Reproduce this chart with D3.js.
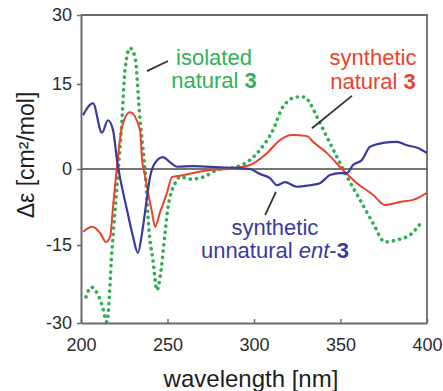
<!DOCTYPE html>
<html>
<head>
<meta charset="utf-8">
<script src="https://cdn.jsdelivr.net/npm/d3@7"></script>
<style>
  body { margin: 0; background: #fff; }
  svg { display: block; font-family: "Liberation Sans", Arial, sans-serif; }
</style>
</head>
<body>
<svg id="cd-graph" width="443" height="391"></svg>
<script>
// wavelength [nm] / delta epsilon
const blueWl  = [201.2, 206.9, 212.1, 215.6, 218.5, 220.8, 226.6, 230.1, 232.9, 235.3, 238.2, 239.9, 242.8, 247.4, 251.4, 255.5, 265, 280.3, 290, 297.7, 303.5, 309.2, 313.3, 317.9, 324.8, 332.4, 338.1, 343.9, 349.7, 353.7, 357.2, 362.4, 367, 374.6, 382.6, 388.4, 394.8, 400];
const blueDe  = [9.5, 11.6, 6.4, 8.6, 6.9, 1.6, -8.1, -13.4, -16.5, -12.6, -5.5, -1.6, 1.1, 2.1, 1.2, 0.4, 0.5, 0.3, 0.2, 0, -1, -1.8, -3.2, -2.6, -3.5, -3.2, -2.8, -1.2, -0.8, -0.8, 0.7, 1.6, 3.9, 4.6, 4.8, 4.2, 3.7, 2.8];

const redWl   = [201.2, 206.4, 211, 214.5, 216.8, 218.5, 220.8, 223.7, 228.3, 234.1, 235.3, 236.5, 241, 242.8, 245.7, 249.7, 252.6, 258, 264.7, 274.6, 284.4, 297.7, 307.5, 315, 322, 330.6, 334.1, 342.2, 351.4, 359.5, 368.8, 375.7, 384.4, 391.9, 400];
const redDe   = [-12.4, -11.4, -12.6, -14.4, -13.4, -7.5, 0.5, 7.4, 10, 6.9, 1.6, -0.5, -8.5, -11.4, -8.5, -4.7, -1.6, -1.3, -0.8, -0.2, 0, 0.7, 2.8, 5.1, 6, 5.8, 4.8, 2.8, -0.2, -2.8, -5.1, -7.1, -6.5, -6.1, -4.7];

const greenWl = [202.9, 205.8, 209.2, 212.1, 215, 217.9, 219.7, 221.4, 223.7, 225.4, 228.3, 231.2, 234.1, 235.3, 237, 239.4, 241.6, 243.9, 245.7, 248.6, 250.3, 255.5, 257.2, 263, 270.5, 278.6, 290.2, 297.7, 303.5, 311, 316.8, 324.8, 329.5, 332.4, 336.4, 342.2, 348, 353.7, 361.3, 368.8, 375.7, 382.6, 390.2, 397.7];
const greenDe = [-25, -23.1, -24.2, -26.5, -29.8, -16, -8.1, -0.8, 8.8, 18, 22.8, 20.9, 8.8, 5.1, 0, -12.6, -17.9, -23.7, -21.2, -12.6, -7.5, -2.2, -1.5, -2.0, -1.6, -0.2, 0.4, 1.6, 3.4, 6.9, 11, 12.7, 12.7, 11.6, 9.2, 5.6, 2.1, -1.5, -6.1, -10.7, -14.4, -14, -13, -10.1];

const xTicks = [200, 250, 300, 350, 400];
const yTicks = [-30, -15, 0, 15, 30];

const svg = d3.select("#cd-graph");
const margin = { top: 15, right: 16, bottom: 68, left: 81 };
const width = 443 - margin.left - margin.right;
const height = 391 - margin.top - margin.bottom;

const x = d3.scaleLinear().domain([200, 400]).range([0, width]);
// the printed axis is slightly uneven, so map each tick to where it sits
const y = d3.scaleLinear().domain(yTicks).range([308, 230, 154, 69, 0]);

const g = svg.append("g").attr("transform", "translate(" + margin.left + "," + margin.top + ")");

g.append("clipPath").attr("id", "plot-clip")
  .append("rect").attr("width", width).attr("height", height);

// frame (top / right)
g.append("path")
  .attr("d", "M0,0H" + width + "V" + height)
  .attr("fill", "none")
  .attr("stroke", "#6e6a6a")
  .attr("stroke-width", 1.8);

// zero line
g.append("line")
  .attr("x1", 0).attr("x2", width)
  .attr("y1", y(0)).attr("y2", y(0))
  .attr("stroke", "#4a4646")
  .attr("stroke-width", 1.5);

const line = d3.line()
  .x(d => x(d[0]))
  .y(d => y(d[1]))
  .curve(d3.curveMonotoneX);

const series = [
  { wl: greenWl, de: greenDe, color: "#2fae52", width: 3.6, dash: "0.1 6.2" },
  { wl: redWl, de: redDe, color: "#e8442c", width: 2, dash: null },
  { wl: blueWl, de: blueDe, color: "#3b3a9e", width: 2.2, dash: null }
];

const plot = g.append("g").attr("clip-path", "url(#plot-clip)");
series.forEach(s => {
  plot.append("path")
    .datum(d3.zip(s.wl, s.de))
    .attr("fill", "none")
    .attr("stroke", s.color)
    .attr("stroke-width", s.width)
    .attr("stroke-linecap", s.dash ? "round" : "butt")
    .attr("stroke-linejoin", "round")
    .attr("stroke-dasharray", s.dash)
    .attr("d", line);
});

// axes
const xAxis = g.append("g")
  .attr("transform", "translate(0," + height + ")")
  .call(d3.axisBottom(x).tickValues(xTicks).tickSizeInner(-4).tickSizeOuter(0).tickPadding(15).tickFormat(d => String(d)));

const yAxis = g.append("g")
  .call(d3.axisLeft(y).tickValues(yTicks).tickSizeInner(4).tickSizeOuter(0).tickPadding(5).tickFormat(d => String(d)));

[xAxis, yAxis].forEach(a => {
  a.select(".domain").attr("stroke", "#6e6a6a").attr("stroke-width", 2);
  a.selectAll(".tick line").attr("stroke", "#6e6a6a").attr("stroke-width", 1.5);
  a.selectAll(".tick text")
    .attr("fill", "#2b2b2b")
    .style("font-size", "18px")
    .style("font-family", "Liberation Sans, Arial, sans-serif");
});

// axis titles
svg.append("text")
  .attr("x", 251).attr("y", 387)
  .attr("text-anchor", "middle")
  .attr("fill", "#1e1e1e")
  .style("font-size", "24px")
  .text("wavelength [nm]");

svg.append("text")
  .attr("transform", "translate(34,155) rotate(-90)")
  .attr("text-anchor", "middle")
  .attr("fill", "#1e1e1e")
  .style("font-size", "23px")
  .text("Δε [cm²/mol]");

// annotations (positions in data units)
const labels = [
  { lines: [["isolated"], ["natural ", "3"]], wl: 276.9, de: [19.1, 14.3], color: "#34b058", leader: [[238.1, 17.8], [250.3, 20]] },
  { lines: [["synthetic"], ["natural ", "3"]], wl: 368.8, de: [19.1, 14.1], color: "#e8442c", leader: [[333.5, 7.2], [356.6, 12.9]] },
  { lines: [["synthetic"], ["unnatural ", "ent", "-", "3"]], wl: 312.1, de: [-13.0, -17.5], color: "#3b3a9e", leader: [[306.4, -9.1], [312.7, -4.5]] }
];

labels.forEach(lab => {
  g.append("line")
    .attr("x1", x(lab.leader[0][0])).attr("y1", y(lab.leader[0][1]))
    .attr("x2", x(lab.leader[1][0])).attr("y2", y(lab.leader[1][1]))
    .attr("stroke", "#333")
    .attr("stroke-width", 1.8);

  lab.lines.forEach((parts, i) => {
    const t = g.append("text")
      .attr("x", x(lab.wl))
      .attr("y", y(lab.de[i]))
      .attr("text-anchor", "middle")
      .attr("fill", lab.color)
      .style("font-size", "22px");
    parts.forEach(p => {
      const ts = t.append("tspan").text(p);
      if (p === "3") ts.attr("font-weight", "bold");
      if (p === "ent") ts.attr("font-style", "italic");
    });
  });
});
</script>
</body>
</html>
